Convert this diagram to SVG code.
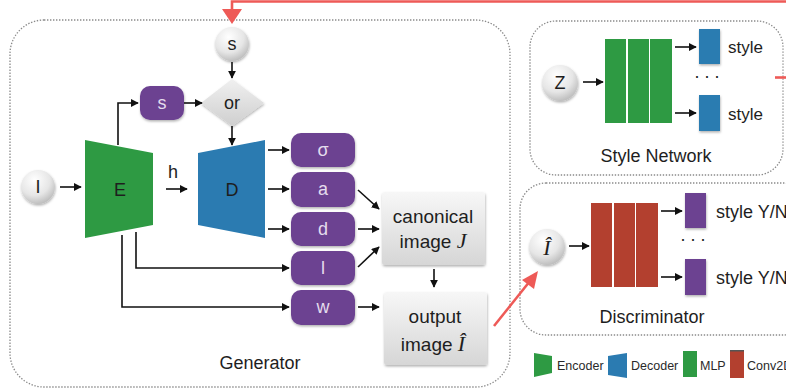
<svg xmlns="http://www.w3.org/2000/svg" width="786" height="391" viewBox="0 0 786 391">
<defs>
  <radialGradient id="ball" cx="0.4" cy="0.3" r="0.75">
    <stop offset="0" stop-color="#ffffff"/>
    <stop offset="0.6" stop-color="#e6e6e6"/>
    <stop offset="1" stop-color="#b8b8b8"/>
  </radialGradient>
  <linearGradient id="boxg" x1="0" y1="0" x2="0" y2="1">
    <stop offset="0" stop-color="#f7f7f7"/>
    <stop offset="1" stop-color="#d6d6d6"/>
  </linearGradient>
  <linearGradient id="diag" x1="0" y1="0" x2="0" y2="1">
    <stop offset="0" stop-color="#f0f0f0"/>
    <stop offset="1" stop-color="#cfcfcf"/>
  </linearGradient>
  <filter id="sh" x="-20%" y="-20%" width="150%" height="150%">
    <feDropShadow dx="0.5" dy="1.5" stdDeviation="1.2" flood-color="#000" flood-opacity="0.3"/>
  </filter>
  <marker id="ah" viewBox="0 0 10 10" refX="9" refY="5" markerWidth="8" markerHeight="8" markerUnits="userSpaceOnUse" orient="auto">
    <path d="M0,0 L10,5 L0,10 z" fill="#111"/>
  </marker>
  <style>
    .frame { fill: none; stroke: #8a8a8a; stroke-width: 1.3; stroke-dasharray: 1.4 1.6; }
    .ball { fill: url(#ball); filter: url(#sh); }
    .mlp { fill: #6c4391; filter: url(#sh); }
    .enc { fill: #2e9a43; }
    .dec { fill: #2b7bb1; }
    .conv { fill: #b3402f; }
    .gbox { fill: url(#boxg); filter: url(#sh); }
    .t { font-family: "Liberation Sans", Arial, sans-serif; font-size: 18px; fill: #1e1e1e; text-anchor: middle; }
    .tb { font-family: "Liberation Sans", Arial, sans-serif; font-size: 19px; fill: #1e1e1e; text-anchor: middle; }
    .tl { font-family: "Liberation Sans", Arial, sans-serif; font-size: 17px; fill: #1e1e1e; }
    .yn { font-family: "Liberation Sans", Arial, sans-serif; font-size: 18px; fill: #1e1e1e; }
    .tw { font-family: "Liberation Sans", Arial, sans-serif; font-size: 18px; fill: #e4dced; text-anchor: middle; }
    .tm { font-family: "Liberation Serif", "Times New Roman", serif; font-style: italic; font-size: 22px; }
    .lg { font-family: "Liberation Sans", Arial, sans-serif; font-size: 12.5px; fill: #2a2a2a; }
    .ln { fill: none; stroke: #111; stroke-width: 1.6; marker-end: url(#ah); }
    .red { fill: none; stroke: #ee5a57; stroke-width: 2.6; }
  </style>
</defs>

<rect width="786" height="391" fill="#ffffff"/>

<!-- section frames -->
<g id="frames">
  <rect class="frame" x="10" y="20" width="500" height="367" rx="34"/>
  <rect class="frame" x="530" y="21" width="253" height="154" rx="26"/>
  <rect class="frame" x="520" y="183" width="290" height="152" rx="26"/>
</g>

<!-- generator nodes -->
<g id="node-s-in">
  <circle class="ball" cx="232" cy="44" r="17"/>
  <text class="t" x="232" y="50">s</text>
</g>
<g id="node-or">
  <polygon points="232,79 264,103 232,126 201,103" fill="url(#diag)" filter="url(#sh)"/>
  <text class="t" x="232" y="109">or</text>
</g>
<g id="node-s-enc">
  <rect class="mlp" x="140" y="86" width="44" height="34" rx="10"/>
  <text class="tw" x="162" y="109">s</text>
</g>
<g id="node-I">
  <circle class="ball" cx="38" cy="187" r="17"/>
  <text class="t" x="38" y="193">I</text>
</g>
<g id="node-E">
  <polygon class="enc" points="85,140 153,153 153,225 85,238"/>
  <text class="t" x="120" y="196">E</text>
</g>
<g id="node-D">
  <polygon class="dec" points="198,153 265,140 265,238 198,225"/>
  <text class="t" x="232" y="196">D</text>
</g>
<g id="node-h">
  <text class="t" x="173" y="178">h</text>
</g>
<g id="node-sigma">
  <rect class="mlp" x="291" y="133" width="64" height="34" rx="10"/>
  <text class="tw" x="323" y="156">σ</text>
</g>
<g id="node-a">
  <rect class="mlp" x="291" y="172" width="64" height="35" rx="10"/>
  <text class="tw" x="323" y="195">a</text>
</g>
<g id="node-d">
  <rect class="mlp" x="291" y="212" width="64" height="34" rx="10"/>
  <text class="tw" x="323" y="235">d</text>
</g>
<g id="node-l">
  <rect class="mlp" x="291" y="251" width="64" height="34" rx="10"/>
  <text class="tw" x="323" y="274">l</text>
</g>
<g id="node-w">
  <rect class="mlp" x="291" y="290" width="64" height="35" rx="10"/>
  <text class="tw" x="323" y="313">w</text>
</g>
<g id="node-canonical">
  <rect class="gbox" x="382" y="192" width="103" height="73" rx="3"/>
  <text class="tb" x="433" y="223">canonical</text>
  <text class="tb" x="433" y="248">image <tspan class="tm">J</tspan></text>
</g>
<g id="node-output">
  <rect class="gbox" x="384" y="292" width="103" height="73" rx="3"/>
  <text class="tb" x="435" y="323">output</text>
  <text class="tb" x="433" y="351">image <tspan class="tm">Î</tspan></text>
</g>
<text class="t" x="260" y="369">Generator</text>

<!-- style network -->
<g id="node-Z">
  <circle class="ball" cx="560" cy="83" r="18"/>
  <text class="t" x="560" y="89">Z</text>
</g>
<g id="node-style-mlp">
  <rect class="enc" x="605" y="39" width="21" height="84"/>
  <rect class="enc" x="628" y="39" width="21" height="84"/>
  <rect class="enc" x="650" y="39" width="22" height="84"/>
</g>
<g id="node-style-1">
  <rect class="dec" x="699" y="29" width="21" height="35" filter="url(#sh)"/>
  <text class="tl" x="728" y="53">style</text>
</g>
<g id="node-style-2">
  <rect class="dec" x="699" y="95" width="21" height="36" filter="url(#sh)"/>
  <text class="tl" x="728" y="120">style</text>
</g>
<text class="t" x="709" y="82" letter-spacing="4">···</text>
<text class="t" x="656" y="162">Style Network</text>

<!-- discriminator -->
<g id="node-Ihat">
  <circle class="ball" cx="547" cy="247" r="18"/>
  <text class="tm" x="547" y="255" text-anchor="middle" fill="#1e1e1e">Î</text>
</g>
<g id="node-disc-conv">
  <rect class="conv" x="591" y="203" width="21" height="84"/>
  <rect class="conv" x="614" y="203" width="21" height="84"/>
  <rect class="conv" x="636" y="203" width="22" height="84"/>
</g>
<g id="node-yn-1">
  <rect class="mlp" x="685" y="193" width="21" height="35"/>
  <text class="yn" x="716" y="218">style Y/N</text>
</g>
<g id="node-yn-2">
  <rect class="mlp" x="685" y="259" width="21" height="36"/>
  <text class="yn" x="716" y="284">style Y/N</text>
</g>
<text class="t" x="695" y="245" letter-spacing="4">···</text>
<text class="t" x="652" y="323">Discriminator</text>

<!-- legend -->
<g id="legend">
  <polygon class="enc" points="534,353 552,356 552,373 534,377"/>
  <text class="lg" x="557" y="370">Encoder</text>
  <polygon class="dec" points="608,356 627,353 627,378 608,375"/>
  <text class="lg" x="631" y="370">Decoder</text>
  <rect class="enc" x="683" y="351" width="14" height="26"/>
  <text class="lg" x="700" y="370">MLP</text>
  <rect class="conv" x="730" y="350" width="14" height="28"/>
  <rect x="730" y="350" width="14" height="1.5" fill="#555"/>
  <text class="lg" x="747" y="370">Conv2D</text>
</g>

<!-- connectors -->
<g id="connectors">
  <path class="ln" d="M232,62 V78"/>
  <path class="ln" d="M184,103 H202"/>
  <path class="ln" d="M118,145 V103 H138"/>
  <path class="ln" d="M232,126 V145"/>
  <path class="ln" d="M60,187 H81"/>
  <path class="ln" d="M166,189 H187"/>
  <path class="ln" d="M268,150 H289"/>
  <path class="ln" d="M268,189 H289"/>
  <path class="ln" d="M268,229 H289"/>
  <path class="ln" d="M136,232 V268 H289"/>
  <path class="ln" d="M122,235 V307 H289"/>
  <path class="ln" d="M358,190 L379,209"/>
  <path class="ln" d="M358,229 H379"/>
  <path class="ln" d="M358,267 L379,247"/>
  <path class="ln" d="M358,307 H379"/>
  <path class="ln" d="M434,269 V287"/>
  <path class="ln" d="M583,82 H603"/>
  <path class="ln" d="M675,47 H696"/>
  <path class="ln" d="M675,113 H696"/>
  <path class="ln" d="M569,246 H589"/>
  <path class="ln" d="M661,211 H682"/>
  <path class="ln" d="M661,277 H682"/>
  <!-- sampled style fed back to generator -->
  <path class="red" d="M786,1.5 H232 V12"/>
  <polygon points="222,9 242,9 232,24" fill="#ee5a57"/>
  <path class="red" d="M775,77.5 H786"/>
  <!-- output passed to discriminator -->
  <path class="red" d="M494,326 L530,281"/>
  <polygon points="538,271 522,280 534,289" fill="#ee5a57"/>
</g>
</svg>
